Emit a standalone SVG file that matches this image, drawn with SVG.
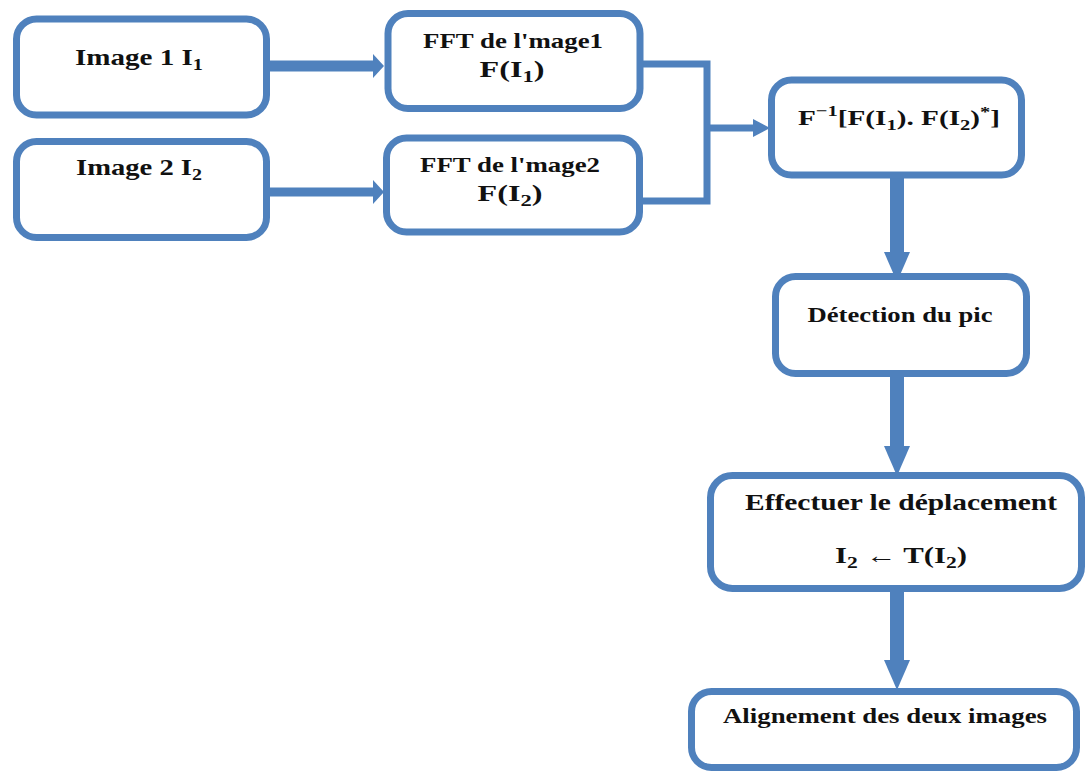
<svg xmlns="http://www.w3.org/2000/svg" width="1086" height="772" viewBox="0 0 1086 772">
<style>
.box{fill:#fff;stroke:#4F81BD;stroke-width:7}
.t{font-family:"Liberation Serif","Times New Roman",serif;font-weight:bold;fill:#111;text-anchor:middle}
.sub{font-size:70%}
.conn{fill:none;stroke:#4F81BD}
</style>
<defs>
<marker id="hv" markerUnits="userSpaceOnUse" viewBox="0 0 30 26" markerWidth="30" markerHeight="26" refX="0" refY="13" orient="auto"><path d="M0,0 L30,13 L0,26 z" fill="#4F81BD"/></marker>
<marker id="h1" markerUnits="userSpaceOnUse" viewBox="0 0 11 24" markerWidth="11" markerHeight="24" refX="0" refY="12" orient="auto"><path d="M0,0 L11,12 L0,24 z" fill="#4F81BD"/></marker>
<marker id="h2" markerUnits="userSpaceOnUse" viewBox="0 0 17 18" markerWidth="17" markerHeight="18" refX="0" refY="9" orient="auto"><path d="M0,0 L17,9 L0,18 z" fill="#4F81BD"/></marker>
</defs>
<rect width="1086" height="772" fill="#fff"/>
<g id="connectors">
<line class="conn" x1="270" y1="66" x2="373" y2="66" stroke-width="11" marker-end="url(#h1)"/>
<line class="conn" x1="270" y1="192" x2="373" y2="192" stroke-width="9" marker-end="url(#h1)"/>
<path class="conn" d="M640,64 H707 V201 H640" stroke-width="7"/>
<line class="conn" x1="707" y1="128" x2="753" y2="128" stroke-width="7" marker-end="url(#h2)"/>
<line class="conn" x1="897" y1="178" x2="897" y2="252" stroke-width="14" marker-end="url(#hv)"/>
<line class="conn" x1="897" y1="377" x2="897" y2="446" stroke-width="14" marker-end="url(#hv)"/>
<line class="conn" x1="897" y1="592" x2="897" y2="660" stroke-width="14" marker-end="url(#hv)"/>
</g>
<g id="n1">
<rect class="box" x="16.5" y="19" width="250" height="96" rx="20"/>
<text class="t" x="139" y="65" font-size="24" textLength="128" lengthAdjust="spacingAndGlyphs">Image 1 I<tspan class="sub" dy="5">1</tspan></text>
</g>
<g id="n2">
<rect class="box" x="16.5" y="141.5" width="250" height="96" rx="20"/>
<text class="t" x="139" y="175" font-size="24" textLength="126" lengthAdjust="spacingAndGlyphs">Image 2  I<tspan class="sub" dy="5">2</tspan></text>
</g>
<g id="n3">
<rect class="box" x="388" y="13.5" width="252" height="95" rx="20"/>
<text class="t" x="513" y="48" font-size="21" textLength="180" lengthAdjust="spacingAndGlyphs">FFT de l'mage1</text>
<text class="t" x="512" y="77" font-size="23" textLength="65" lengthAdjust="spacingAndGlyphs">F(I<tspan class="sub" dy="5">1</tspan><tspan dy="-5">)</tspan></text>
</g>
<g id="n4">
<rect class="box" x="386.5" y="138" width="253" height="94" rx="20"/>
<text class="t" x="510" y="172" font-size="21" textLength="180" lengthAdjust="spacingAndGlyphs">FFT de l'mage2</text>
<text class="t" x="510" y="201" font-size="23" textLength="65" lengthAdjust="spacingAndGlyphs">F(I<tspan class="sub" dy="5">2</tspan><tspan dy="-5">)</tspan></text>
</g>
<g id="n5">
<rect class="box" x="771.5" y="80" width="250" height="95" rx="20"/>
<text class="t" x="899" y="125" font-size="22" textLength="202" lengthAdjust="spacingAndGlyphs">F<tspan class="sub" dy="-9">−1</tspan><tspan dy="9">[F(I</tspan><tspan class="sub" dy="5">1</tspan><tspan dy="-5">). F(I</tspan><tspan class="sub" dy="5">2</tspan><tspan dy="-5">)</tspan><tspan class="sub" dy="-8">*</tspan><tspan dy="8">]</tspan></text>
</g>
<g id="n6">
<rect class="box" x="775.5" y="276.5" width="251" height="97" rx="20"/>
<text class="t" x="900" y="322" font-size="21" textLength="185" lengthAdjust="spacingAndGlyphs">Détection du pic</text>
</g>
<g id="n7">
<rect class="box" x="710.5" y="475.5" width="371" height="113" rx="22"/>
<text class="t" x="901" y="510" font-size="23" textLength="312" lengthAdjust="spacingAndGlyphs">Effectuer le déplacement</text>
<text class="t" x="901" y="563" font-size="23" textLength="132" lengthAdjust="spacingAndGlyphs">I<tspan class="sub" dy="5">2</tspan><tspan dy="-5"> ← T(I</tspan><tspan class="sub" dy="5">2</tspan><tspan dy="-5">)</tspan></text>
</g>
<g id="n8">
<rect class="box" x="691.5" y="691.5" width="385" height="76" rx="20"/>
<text class="t" x="885" y="723" font-size="22" textLength="324" lengthAdjust="spacingAndGlyphs">Alignement des deux images</text>
</g>
</svg>
